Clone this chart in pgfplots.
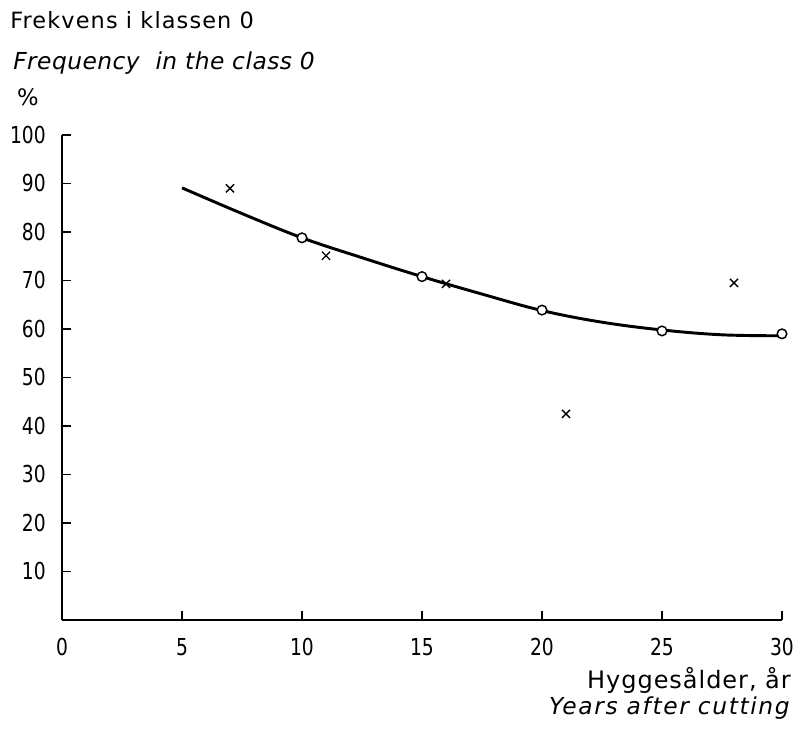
\documentclass[border=0pt]{standalone}
\usepackage{fontspec}
\setmainfont{DejaVu Sans}
\newfontfamily\tickfont{DejaVu Sans}[FakeStretch=0.8]
\usepackage{pgfplots}
\pgfplotsset{compat=1.18}
\begin{document}
\begin{tikzpicture}
\useasboundingbox (-46.5pt,-83.25pt) rectangle (548.25pt,465pt);
\begin{axis}[
  at={(0pt,0pt)}, anchor=origin,
  scale only axis, width=540pt, height=363.75pt,
  xmin=0, xmax=30, ymin=0, ymax=100,
  axis lines=left,
  axis line style={-, line width=1.2pt},
  tick align=inside,
  major tick length=7pt,
  every tick/.style={black, line width=1.2pt},
  xtick={0,5,10,15,20,25,30},
  ytick={10,20,30,40,50,60,70,80,90,100},
  /pgf/number format/assume math mode=true,
  tick label style={font=\tickfont\fontsize{17.5}{18}\selectfont},
  yticklabel style={inner sep=0pt, anchor=east, xshift=-12pt},
  xticklabel style={inner sep=0pt, anchor=north, yshift=-13.5pt},
  clip=false,
]
\addplot[black, line width=2.2pt, smooth, tension=0.6] coordinates {
  (5,89.1) (7.5,83.8) (10,78.8) (12.5,74.7) (15,70.8) (17.5,67.2)
  (20,63.8) (22.5,61.4) (25,59.8) (27.5,58.8) (30,58.6)
};
\addplot[only marks, mark=*, mark size=3.6pt, mark options={fill=white, draw=black, line width=1.1pt}] coordinates {
  (10,78.8) (15,70.8) (20,63.9) (25,59.6) (30,59.0)
};
\addplot[only marks, mark=x, mark size=4.3pt, mark options={draw=black, line width=1pt}] coordinates {
  (7,89.0) (11,75.1) (16,69.3) (21,42.5) (28,69.5)
};
\end{axis}
\node[anchor=base west, inner sep=0pt, font=\fontsize{16.8}{18}\selectfont\addfontfeatures{LetterSpace=5}] at (-39pt,443.25pt) {Frekvens i klassen 0};
\node[anchor=base west, inner sep=0pt, font=\fontsize{17.5}{18}\selectfont\itshape\addfontfeatures{LetterSpace=2}] at (-36.75pt,412.5pt) {Frequency\ \ in the class 0};
\node[inner sep=0pt, font=\fontsize{17}{18}\selectfont] at (-25.5pt,392.25pt) {\%};
\node[anchor=base east, inner sep=0pt, font=\fontsize{18}{20}\selectfont\addfontfeatures{LetterSpace=4}] at (546.75pt,-51.75pt) {Hyggesålder, år};
\node[anchor=base east, inner sep=0pt, font=\fontsize{17.5}{18}\selectfont\itshape\addfontfeatures{LetterSpace=7}] at (546pt,-71.25pt) {Years after cutting};
\end{tikzpicture}
\end{document}
